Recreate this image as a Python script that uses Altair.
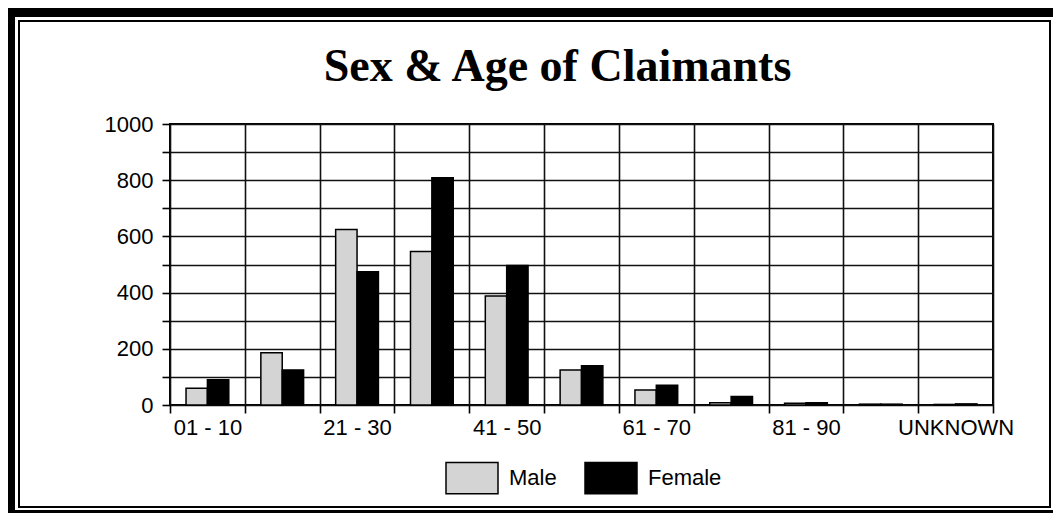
import altair as alt
import pandas as pd

# ---- data ----
categories = ["01 - 10", "11 - 20", "21 - 30", "31 - 40", "41 - 50", "51 - 60",
              "61 - 70", "71 - 80", "81 - 90", "91 - 100", "UNKNOWN"]
male = [60, 186, 625, 546, 388, 125, 53, 8, 6, 3, 2]
female = [90, 125, 474, 809, 496, 140, 70, 30, 8, 3, 4]
shown_labels = ["01 - 10", "21 - 30", "41 - 50", "61 - 70", "81 - 90", "UNKNOWN"]
series = ["Male", "Female"]
series_colors = ["#d4d4d4", "#000000"]
y_ticks = list(range(0, 1001, 100))

rows = []
for i, c in enumerate(categories):
    rows.append({"age": c, "sex": "Male", "count": male[i]})
    rows.append({"age": c, "sex": "Female", "count": female[i]})
df = pd.DataFrame(rows)

label_expr = ("indexof([" + ",".join("'%s'" % l for l in shown_labels)
              + "], datum.value) >= 0 ? datum.label : ''")

W, H = 823, 281
PAD = {"left": 162, "top": 116, "right": 60, "bottom": 108}

bars = alt.Chart(df).mark_bar(stroke="black", strokeWidth=1.5).encode(
    x=alt.X("age:N", sort=categories,
            scale=alt.Scale(paddingInner=0, paddingOuter=0),
            axis=alt.Axis(title=None, tickBand="extent", labelExpr=label_expr,
                          labelAngle=0, grid=True, labelPadding=4, domain=False)),
    xOffset=alt.XOffset("sex:N", sort=series,
                        scale=alt.Scale(paddingInner=0, paddingOuter=0.75)),
    y=alt.Y("count:Q", scale=alt.Scale(domain=[0, 1000], nice=False),
            axis=alt.Axis(title=None, values=y_ticks, format="d",
                          labelExpr="datum.value % 200 == 0 ? datum.label : ''",
                          grid=True, labelPadding=9, domain=False)),
    color=alt.Color("sex:N", sort=series,
                    scale=alt.Scale(domain=series, range=series_colors),
                    legend=alt.Legend(title=None, orient="none", legendX=275, legendY=327,
                                      direction="horizontal",
                                      symbolType="M-1,-0.6H1V0.6H-1Z", symbolSize=2704,
                                      symbolStrokeColor="black", symbolStrokeWidth=1.5,
                                      symbolOpacity=1,
                                      labelFont="Liberation Sans", labelFontSize=22,
                                      labelColor="black", labelOffset=10,
                                      columnPadding=25, padding=0)),
)

one = pd.DataFrame({"k": [0]})


def block(x, x2, y, y2):
    return alt.Chart(one).mark_rect(fill="black").encode(
        x=alt.value(x), x2=alt.value(x2), y=alt.value(y), y2=alt.value(y2))


left_l, top_l = -PAD["left"], -PAD["top"]
right_l, bottom_l = W + PAD["right"], H + PAD["bottom"]

frame_left = block(left_l, left_l + 7, top_l, bottom_l)
frame_top = block(left_l, right_l, top_l, top_l + 9)
frame_bottom = block(left_l, right_l, bottom_l - 3, bottom_l)
inner = alt.Chart(one).mark_rect(fill=None, stroke="black", strokeWidth=2).encode(
    x=alt.value(left_l + 11), x2=alt.value(right_l - 3),
    y=alt.value(top_l + 13), y2=alt.value(bottom_l - 6))

chart = alt.layer(frame_left, frame_top, frame_bottom, inner, bars).properties(
    width=W, height=H,
    padding=PAD,
    background="white",
    autosize=alt.AutoSizeParams(type="none"),
    title=alt.Title("Sex & Age of Claimants", font="Liberation Serif", fontSize=46,
                    fontWeight="bold", color="black", anchor="middle", frame="group",
                    dx=-24, dy=119, offset=0, baseline="alphabetic"),
).configure_view(
    stroke="black", strokeWidth=2
).configure_axis(
    domainColor="black", tickColor="black", gridColor="#111111", gridWidth=1.6,
    gridOpacity=1, labelColor="black", labelFont="Liberation Sans", labelFontSize=22,
    tickSize=8, tickWidth=1.6
)

chart.save("out.html", embed_options={"renderer": "svg", "actions": False})
